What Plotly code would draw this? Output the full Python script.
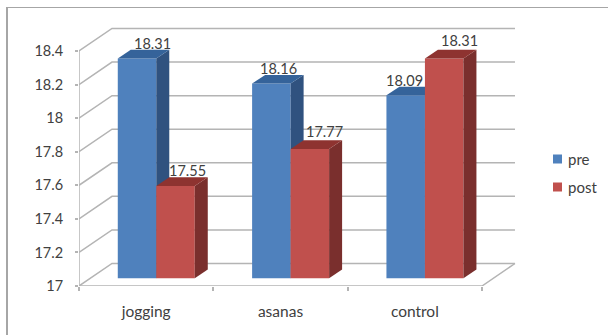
import plotly.graph_objects as go

categories = ["jogging", "asanas", "control"]
pre = [18.31, 18.16, 18.09]
post = [17.55, 17.77, 18.31]
y_ticks = [17, 17.2, 17.4, 17.6, 17.8, 18, 18.2, 18.4]
y_labels = ["17", "17.2", "17.4", "17.6", "17.8", "18", "18.2", "18.4"]

# layout in pixels
L, R, T, B = 79, 0, 27, 49
W, H = 608, 335
PX_X = 134.33   # pixels per category
PX_Y = 167.86   # pixels per value unit
xr = [-0.5, -0.5 + (W - L - R) / PX_X]
yr = [17, 17 + (H - T - B) / PX_Y]

WALL_DX, WALL_DY = 33 / PX_X, 22.5 / PX_Y
BAR_DX, BAR_DY = 13 / PX_X, 8.7 / PX_Y
LIFT = 7.7 / PX_Y
BAR_W = 38.5 / PX_X
PRE_SHIFT, POST_SHIFT = -0.068, 0.2185

BLUE, BLUE_SIDE, BLUE_TOP = "#4F81BD", "#30527F", "#35639A"
RED, RED_SIDE, RED_TOP = "#C0504D", "#7A2F2D", "#8E3330"
GRID = "#B4B4B4"
TEXT = "#404040"
FONT = "Lato"
FS = 14.5

fig = go.Figure()


def add_series(values, shift, front, side, top, xa, ya, name):
    xs = [i + shift for i in range(len(values))]
    fig.add_trace(go.Bar(x=xs, y=[v - 17 for v in values], base=17 + LIFT, width=BAR_W,
                         marker=dict(color=front, line=dict(width=0)), showlegend=False,
                         xaxis=xa, yaxis=ya, name=name))
    for xc, v in zip(xs, values):
        x0, x1 = xc - BAR_W / 2, xc + BAR_W / 2
        ytop, ybase = v + LIFT, 17 + LIFT
        fig.add_trace(go.Scatter(
            x=[x1, x1, x1 + BAR_DX, x1 + BAR_DX, x1],
            y=[ybase, ytop, ytop + BAR_DY, ybase + BAR_DY, ybase],
            fill="toself", fillcolor=side, mode="none", showlegend=False, hoverinfo="skip",
            xaxis=xa, yaxis=ya))
        fig.add_trace(go.Scatter(
            x=[x0, x1, x1 + BAR_DX, x0 + BAR_DX, x0],
            y=[ytop, ytop, ytop + BAR_DY, ytop + BAR_DY, ytop],
            fill="toself", fillcolor=top, mode="none", showlegend=False, hoverinfo="skip",
            xaxis=xa, yaxis=ya))
    return xs


pre_x = add_series(pre, PRE_SHIFT, BLUE, BLUE_SIDE, BLUE_TOP, "x", "y", "pre")
post_x = add_series(post, POST_SHIFT, RED, RED_SIDE, RED_TOP, "x2", "y2", "post")

# walls and floor, behind the bars
grid_line = dict(color=GRID, width=1.5)
x_front0, x_front1 = -0.5, len(categories) - 0.5
shapes = []
for t in y_ticks:
    path = (f"M{x_front0},{t} L{x_front0 + WALL_DX},{t + WALL_DY} "
            f"L{x_front1 + WALL_DX},{t + WALL_DY}")
    shapes.append(dict(type="path", path=path, xref="x", yref="y", line=grid_line, layer="below"))
shapes.append(dict(type="path",
                   path=f"M{x_front0},17 L{x_front1},17 L{x_front1 + WALL_DX},{17 + WALL_DY}",
                   xref="x", yref="y", line=grid_line, layer="below"))
shapes.append(dict(type="line", x0=x_front0, x1=x_front0, y0=17, y1=y_ticks[-1],
                   xref="x", yref="y", line=grid_line, layer="below"))
# picture frame (left and top)
plot_w, plot_h = W - L - R, H - T - B
px = lambda v: (v - L) / plot_w
py = lambda v: 1 - (v - T) / plot_h
shapes.append(dict(type="line", xref="paper", yref="paper", x0=px(7), x1=px(7), y0=py(7), y1=py(335),
                   line=dict(color="#A6A6A6", width=2)))
shapes.append(dict(type="line", xref="paper", yref="paper", x0=px(7), x1=px(608), y0=py(7.5), y1=py(7.5),
                   line=dict(color="#A6A6A6", width=1)))

# data labels: offsets from the top front edge of each bar
pre_off = [(15, 15), (7.5, 15), (-1, 15)]
post_off = [(12, 15), (15, 18), (15, 18)]
annotations = []
for xs, vals, offs in [(pre_x, pre, pre_off), (post_x, post, post_off)]:
    for xc, v, (dx, dy) in zip(xs, vals, offs):
        annotations.append(dict(x=xc, y=v + LIFT, xref="x", yref="y", text=f"{v:.2f}", showarrow=False,
                                xanchor="center", yanchor="middle", xshift=dx, yshift=dy,
                                font=dict(family=FONT, size=FS, color=TEXT)))

# legend keys and names
for name, color, y_c in [("pre", BLUE, 159), ("post", RED, 187)]:
    shapes.append(dict(type="rect", xref="paper", yref="paper", x0=px(553), x1=px(562),
                       y0=py(y_c - 4.5), y1=py(y_c + 4.5), fillcolor=color, line=dict(width=0)))
    annotations.append(dict(x=px(566), y=py(y_c), xref="paper", yref="paper", text=name, showarrow=False,
                            xanchor="left", yanchor="middle", font=dict(family=FONT, size=15, color=TEXT)))

fig.update_layout(
    width=W, height=H, margin=dict(l=L, r=R, t=T, b=B, pad=0),
    paper_bgcolor="white", plot_bgcolor="rgba(0,0,0,0)", barmode="overlay",
    font=dict(family=FONT, size=FS, color=TEXT), showlegend=False,
    shapes=shapes, annotations=annotations,
    xaxis=dict(range=xr, showgrid=False, zeroline=False, showline=False,
               tickmode="array", tickvals=list(range(len(categories))), ticktext=categories,
               ticks="", ticklabelstandoff=14, tickfont=dict(family=FONT, size=15.5, color=TEXT),
               minor=dict(tickmode="array", tickvals=[i - 0.5 for i in range(len(categories) + 1)],
                          ticks="outside", ticklen=4, tickcolor=GRID, tickwidth=1.5, showgrid=False)),
    yaxis=dict(range=yr, showgrid=False, zeroline=False, showline=False,
               tickmode="array", tickvals=y_ticks, ticktext=y_labels,
               ticks="outside", ticklen=3, tickcolor=GRID, tickwidth=1.5, ticklabelstandoff=9),
    xaxis2=dict(range=xr, overlaying="x", visible=False),
    yaxis2=dict(range=yr, overlaying="y", visible=False),
)

fig.write_html("out.html", config=dict(displayModeBar=False),
               post_script="document.body.style.margin='0';")
